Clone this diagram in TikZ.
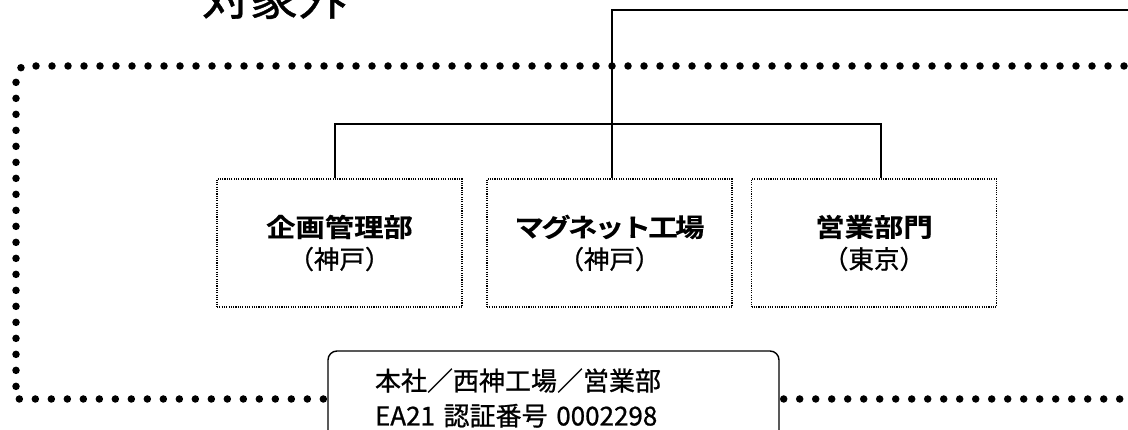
\documentclass[tikz,border=0pt]{standalone}
\usepackage{fontspec}
\newfontfamily\jp{Noto Sans CJK JP}[FakeBold=0.8]
\newfontfamily\jpb{Noto Sans CJK JP}[UprightFont=* Bold, FakeBold=0.3, FakeStretch=1.15]
\begin{document}
\begin{tikzpicture}[x=1pt,y=-1pt,
  bigdots/.style={line width=7.5pt, line cap=round, dash pattern=on 0pt off 16pt},
  orgbox/.style={draw, line width=1.1pt, dash pattern=on 1.1pt off 1.2pt, minimum width=245pt, minimum height=128pt, inner sep=0pt, align=center, font=\jp\fontsize{25.5}{32}\selectfont},
  conn/.style={line width=1.3pt},
  certbox/.style={draw, line width=1.4pt, rounded corners=9pt, minimum width=451pt, minimum height=94pt, inner xsep=47pt, inner ysep=0pt, text width=357pt, align=left, fill=white, font=\jp\fontsize{26}{35}\selectfont},
  title/.style={font=\jp\fontsize{48}{48}\selectfont, anchor=base}
]
\useasboundingbox (0,0) rectangle (1128,430);
\fill[white] (0,0) rectangle (1128,430);
\node[title] (ttl) at (274,15) {対象外};
\node[orgbox] (b1) at (339.5,243) {{\jpb\fontsize{25.5}{32}\selectfont 企画管理部}\\（神戸）};
\node[orgbox] (b2) at (609.5,243) {{\jpb\fontsize{25.5}{32}\selectfont\addfontfeature{LetterSpace=-10}マグネット工場}\\（神戸）};
\node[orgbox] (b3) at (874,243) {{\jpb\fontsize{25.5}{32}\selectfont 営業部門}\\（東京）};
\coordinate (topR) at (1140,10);
\coordinate (hL) at (335,124);
\coordinate (hR) at (881,124);
\draw[conn] (topR) -- (612,10) -- (612,0 |- b2.north);
\draw[conn] (hL |- b1.north) -- (hL) -- (hR) -- (hR |- b3.north);
\node[certbox] (cert) at (553.5,398) {本社／西神工場／営業部\\EA21 認証番号 0002298};
\coordinate (fTR) at (1140,66);
\coordinate (fBR) at (1140,399);
\draw[bigdots] (fTR) -- (22,66) -- (16,76) -- (16,399) -- (cert.west |- 0,399);
\draw[bigdots] (cert.east |- 0,399) ++(4,0) -- (fBR);
\end{tikzpicture}
\end{document}
